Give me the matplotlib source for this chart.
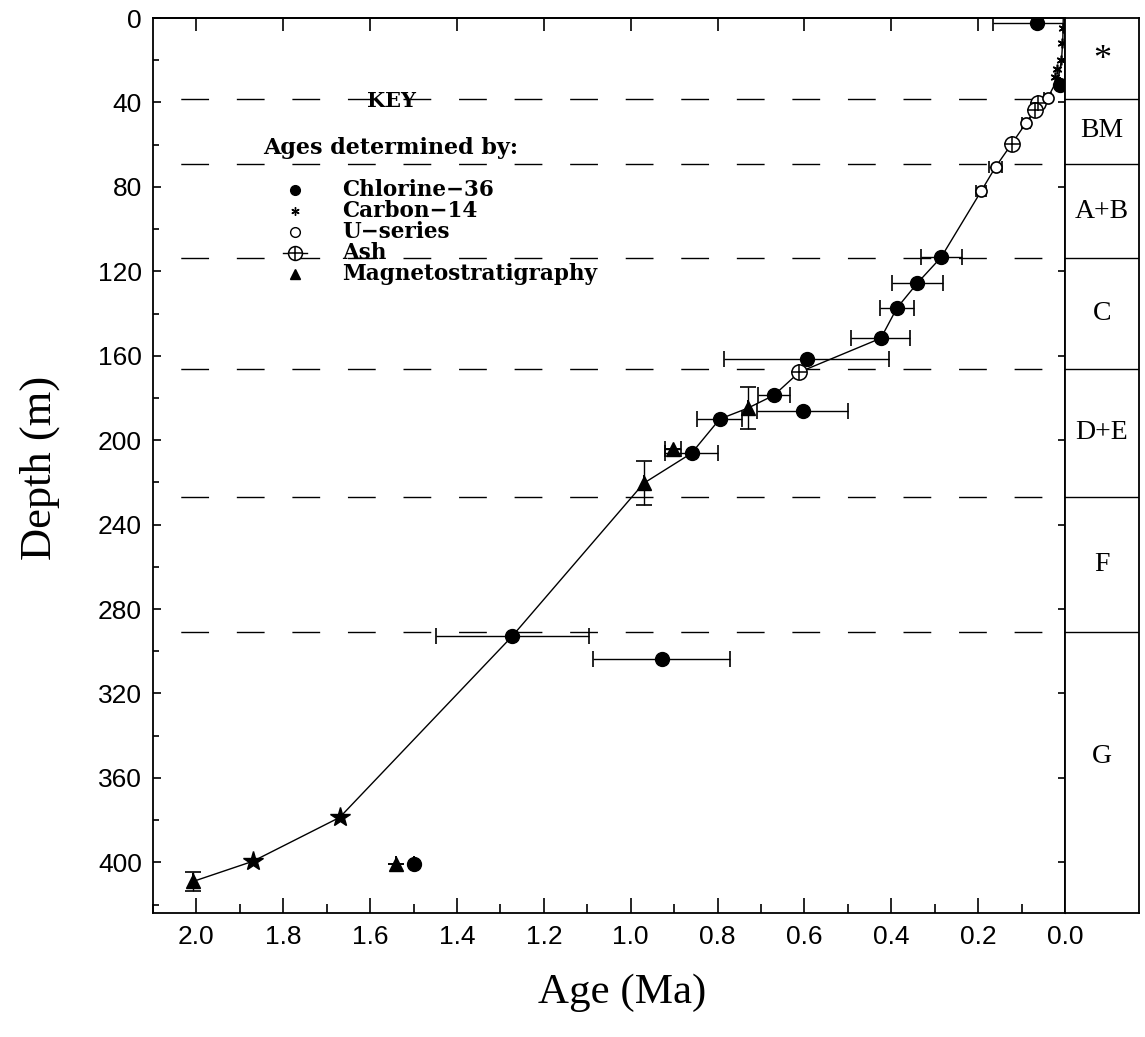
import matplotlib
matplotlib.use("Agg")
import matplotlib.pyplot as plt
from matplotlib.ticker import MultipleLocator, FormatStrFormatter

# ---------------- data (age in Ma, depth in m) ----------------
# Chlorine-36 ages with horizontal error
cl_age   = [0.065, 0.012, 0.285, 0.340, 0.387, 0.424, 0.595, 0.670, 0.604, 0.795, 0.860, 1.273, 0.929, 1.500]
cl_depth = [2.4, 31.8, 113.3, 125.6, 137.4, 151.7, 161.6, 178.7, 186.3, 190.0, 206.2, 292.9, 303.8, 401.0]
cl_xerr  = [0.100, 0.0, 0.047, 0.059, 0.040, 0.068, 0.190, 0.037, 0.105, 0.052, 0.060, 0.176, 0.157, 0.0]

# Carbon-14
c14_age   = [0.005, 0.007, 0.010, 0.018, 0.024]
c14_depth = [4.8, 12.0, 20.0, 24.0, 28.0]

# U-series
u_age   = [0.040, 0.090, 0.160, 0.193]
u_depth = [37.9, 49.8, 70.6, 82.0]
u_xerr  = [0.008, 0.010, 0.015, 0.012]

# Ash
ash_age   = [0.063, 0.070, 0.123, 0.612]
ash_depth = [40.3, 43.6, 59.7, 167.8]

# Magnetostratigraphy
mag_age   = [0.730, 0.902, 0.970, 2.007, 1.540]
mag_depth = [184.8, 204.3, 220.4, 409.0, 401.0]
mag_yerr  = [10.0, 0.0, 10.3, 4.5, 0.0]
mag_xerr  = [0.0, 0.018, 0.0, 0.0, 0.0]

# Combined (star) determinations on the age model
star_age   = [1.670, 1.870]
star_depth = [378.7, 399.5]

# Age-depth model line
line_age   = [0.004, 0.005, 0.008, 0.015, 0.030, 0.040, 0.063, 0.070, 0.090, 0.123, 0.160, 0.193,
              0.285, 0.340, 0.387, 0.424, 0.612, 0.670, 0.730, 0.795, 0.860, 0.970, 1.273, 1.670,
              1.870, 2.007]
line_depth = [0.0, 10.0, 20.0, 28.0, 34.0, 37.9, 40.3, 43.6, 49.8, 59.7, 70.6, 82.0,
              113.3, 125.6, 137.4, 151.7, 167.8, 178.7, 184.8, 190.0, 206.2, 220.4, 292.9, 378.7,
              399.5, 409.0]

# Stratigraphic units
unit_bounds = [38.4, 69.2, 113.7, 166.4, 227.0, 291.0]
unit_labels = ["*", "BM", "A+B", "C", "D+E", "F", "G"]
unit_label_depth = [20.0, 53.5, 91.5, 140.0, 196.5, 259.0, 350.0]

legend_labels = ["Chlorine\u221236", "Carbon\u221214", "U\u2212series", "Ash", "Magnetostratigraphy"]

# ---------------- figure ----------------
W, H = 1145, 1037
fig = plt.figure(figsize=(W / 100, H / 100), dpi=100)


def rect(l, t, r, b):
    return [l / W, (H - b) / H, (r - l) / W, (b - t) / H]


ax = fig.add_axes(rect(153, 18, 1065, 913))
axc = fig.add_axes(rect(1065, 18, 1139, 913))

XMIN, XMAX = 2.1, 0.0
YMAX = 424
ax.set_xlim(XMIN, XMAX)
ax.set_ylim(YMAX, 0)

# dashed unit boundaries
for d in unit_bounds:
    ax.plot([XMIN, XMAX], [d, d], color="k", lw=1.0, ls=(20, (20, 20)), zorder=1)

# age model line
ax.plot(line_age, line_depth, color="k", lw=1.0, zorder=2)

ekw = dict(ecolor="k", elinewidth=1.0, capsize=6, capthick=1.2, zorder=3)
# Chlorine-36
ax.errorbar(cl_age, cl_depth, xerr=cl_xerr, fmt="o", ms=10, mfc="k", mec="k", **ekw)
# Carbon-14
ax.plot(c14_age, c14_depth, ls="none", marker=(6, 2, 0), ms=7, mec="k", mew=1.2, zorder=4)
# U-series
ax.errorbar(u_age, u_depth, xerr=u_xerr, fmt="o", ms=8, mfc="white", mec="k", mew=1.2,
            ecolor="k", elinewidth=1.0, capsize=4, capthick=1.2, zorder=4)
# Ash
ax.plot(ash_age, ash_depth, ls="none", marker="o", ms=11, mfc="white", mec="k", mew=1.1, zorder=4)
ax.plot(ash_age, ash_depth, ls="none", marker="+", ms=11, mec="k", mew=1.1, zorder=5)
# Magnetostratigraphy
ax.errorbar(mag_age, mag_depth, xerr=mag_xerr, yerr=mag_yerr, fmt="^", ms=10, mfc="k", mec="k", **ekw)
# stars
ax.plot(star_age, star_depth, ls="none", marker="*", ms=15, mfc="k", mec="k", zorder=4)

# ticks
ax.xaxis.set_major_locator(MultipleLocator(0.2))
ax.xaxis.set_minor_locator(MultipleLocator(0.1))
ax.xaxis.set_major_formatter(FormatStrFormatter("%.1f"))
ax.yaxis.set_major_locator(MultipleLocator(40))
ax.yaxis.set_minor_locator(MultipleLocator(20))
ax.tick_params(axis="x", which="major", direction="in", length=11, width=1.2, pad=9)
ax.tick_params(axis="x", which="minor", direction="in", length=6.5, width=1.2)
ax.tick_params(axis="y", which="major", direction="in", length=6, width=1.2, pad=8)
ax.tick_params(axis="y", which="minor", direction="in", length=4, width=1.2)
for lab in ax.get_xticklabels() + ax.get_yticklabels():
    lab.set_fontfamily("Liberation Sans")
    lab.set_fontsize(19)

top = ax.secondary_xaxis("top")
top.xaxis.set_major_locator(MultipleLocator(0.2))
top.tick_params(direction="in", length=9, width=1.2, labeltop=False)
top.spines["top"].set_linewidth(1.3)
right = ax.secondary_yaxis("right")
right.yaxis.set_major_locator(MultipleLocator(40))
right.tick_params(direction="in", length=5, width=1.2, labelright=False)

for s in ax.spines.values():
    s.set_linewidth(1.3)

# legend / key drawn as text
kf = dict(family="DejaVu Serif", fontweight="bold", color="k")
ax.text(0.262, 0.907, "KEY", transform=ax.transAxes, ha="center", va="center", size=15, **kf)
ax.text(0.121, 0.855, "Ages determined by:", transform=ax.transAxes, ha="left", va="center",
        size=16, **kf)
rows_y = [0.808, 0.784, 0.761, 0.737, 0.714]
mx, tx = 0.1557, 0.2072
ax.plot([mx], [rows_y[0]], transform=ax.transAxes, marker="o", ms=7, mfc="k", mec="k", ls="none")
ax.plot([mx], [rows_y[1]], transform=ax.transAxes, marker=(6, 2, 0), ms=6, mec="k", mew=1, ls="none")
ax.plot([mx], [rows_y[2]], transform=ax.transAxes, marker="o", ms=7, mfc="white", mec="k", mew=1, ls="none")
ax.plot([mx - 0.013, mx + 0.013], [rows_y[3]] * 2, transform=ax.transAxes, color="k", lw=1.0)
ax.plot([mx], [rows_y[3]], transform=ax.transAxes, marker="o", ms=10, mfc="white", mec="k", mew=1.1, ls="none")
ax.plot([mx], [rows_y[3]], transform=ax.transAxes, marker="+", ms=10, mec="k", mew=1.1, ls="none")
ax.plot([mx], [rows_y[4]], transform=ax.transAxes, marker="^", ms=7, mfc="k", mec="k", ls="none")
for yv, lab in zip(rows_y, legend_labels):
    ax.text(tx, yv, lab, transform=ax.transAxes, ha="left", va="center", size=15.5, **kf)

# unit column
axc.set_xlim(0, 1)
axc.set_ylim(YMAX, 0)
axc.set_xticks([])
axc.set_yticks([])
for s in axc.spines.values():
    s.set_linewidth(1.3)
for d in unit_bounds:
    axc.plot([0, 1], [d, d], color="k", lw=1.0)
for lab, d in zip(unit_labels, unit_label_depth):
    axc.text(0.5, d, lab, ha="center", va="center", family="Liberation Serif",
             size=26 if lab == "*" else 20)

# axis labels
fig.text(40 / W, 1 - 468 / H, "Depth (m)", rotation=90, ha="center", va="center",
         family="Liberation Serif", size=32)
fig.text(622 / W, 1 - 993 / H, "Age (Ma)", ha="center", va="center",
         family="Liberation Serif", size=31)

fig.savefig("out.png", dpi=100)
